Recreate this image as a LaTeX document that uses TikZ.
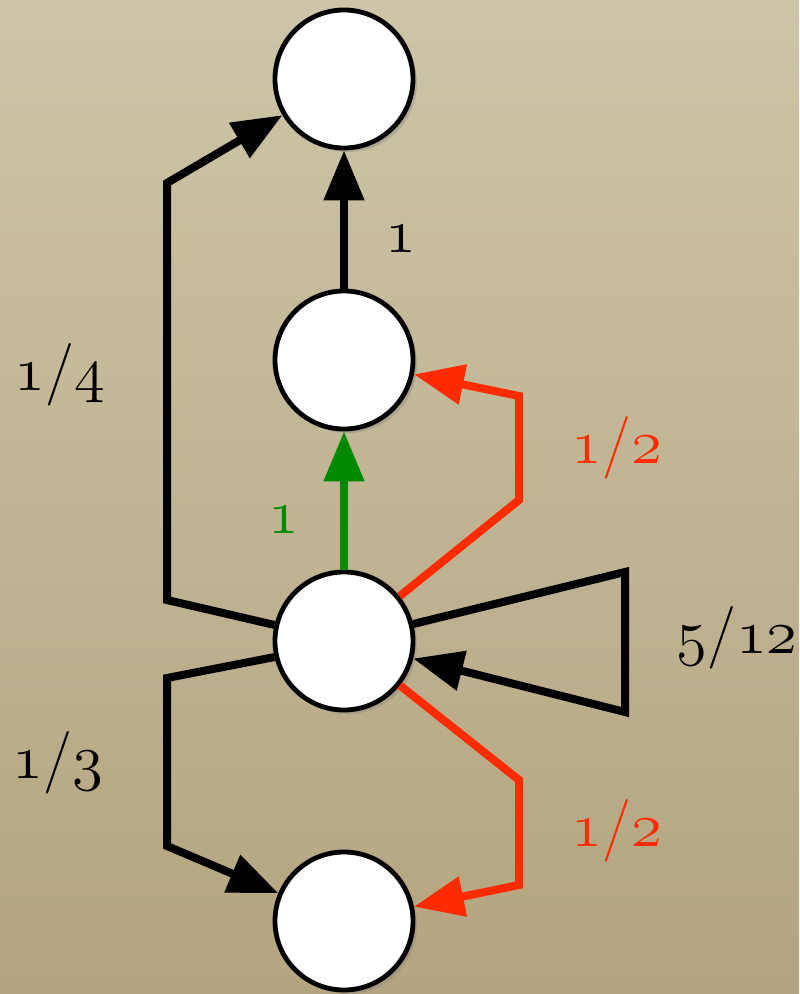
\documentclass[tikz,border=0pt]{standalone}
\usepackage{tikz}
\usepackage{graphicx}
\usetikzlibrary{arrows.meta,shadows}
\definecolor{paper}{HTML}{CDC5A8}
\definecolor{paperdark}{HTML}{B4A47F}
\definecolor{redc}{HTML}{FF2B00}
\definecolor{greenc}{HTML}{008A00}
% old-style digits (cm math italic), blown up afterwards
\newcommand{\osf}[1]{{\usefont{OML}{cmm}{m}{it}#1}}
\newcommand{\prb}[2]{\scalebox{2.15}{\osf{#1}/\osf{#2}}}
\newcommand{\one}{\scalebox{2.15}{\osf{1}}}

\begin{document}
\begin{tikzpicture}[
  x=0.25mm, y=-0.25mm,
  vert/.style={circle, draw=black, line width=1.2mm, fill=white, minimum size=34.5mm, inner sep=0pt,
    drop shadow={shadow xshift=1mm, shadow yshift=-1mm, opacity=0.35}},
  link/.style={line width=2mm, -{Triangle[length=12.5mm,width=9.75mm]}},
  lab/.style={anchor=base, inner sep=0pt, font=\fontsize{20.74}{25}\selectfont}]
  \shade[top color=paper, bottom color=paperdark] (0,0) rectangle (799,994);
  \useasboundingbox (0,0) rectangle (799,994);
  % states
  \node[vert] (n1) at (344,79) {};
  \node[vert] (n2) at (344,360) {};
  \node[vert] (n3) at (344,641) {};
  \node[vert] (n4) at (344,921) {};
  % straight steps
  \draw[link] (n2) -- (n1);
  \draw[link, greenc] (n3) -- (n2);
  % left side
  \draw[link] (n3.167) -- (167,600) -- (167,183) -- (n1);
  \draw[link] (n3.193) -- (167,678) -- (167,846) -- (n4);
  % right side
  \draw[link, redc] (n3) -- (519,500) -- (519,396) -- (n2);
  \draw[link, redc] (n3) -- (519,780) -- (519,885) -- (n4);
  \draw[link] (n3) -- (625,572) -- (625,712) -- (n3);
  % weights
  \node[lab] (w1) at (401,253) {\one};
  \node[lab, text=greenc] (w2) at (284,533) {\one};
  \node[lab] (w3) at (60,390) {\prb{1}{4}};
  \node[lab] (w4) at (58,778) {\prb{1}{3}};
  \node[lab, text=redc] (w5) at (617,463) {\prb{1}{2}};
  \node[lab, text=redc] (w6) at (617,846) {\prb{1}{2}};
  \node[lab] (w7) at (737,653) {\prb{5}{12}};
\end{tikzpicture}
\end{document}
